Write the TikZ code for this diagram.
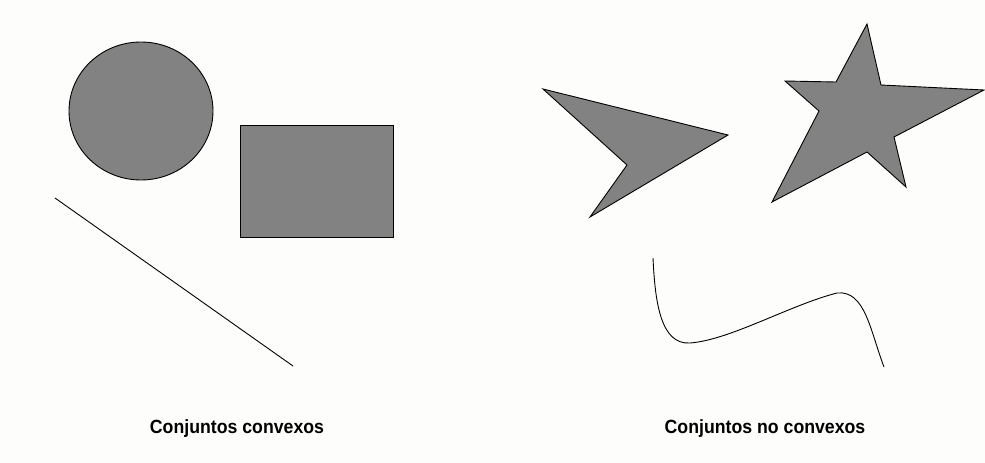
\documentclass[tikz,border=0pt]{standalone}
\usepackage{fontspec}
\setmainfont{Liberation Sans}
\definecolor{bg}{HTML}{FDFDFB}
\definecolor{shapegray}{HTML}{828282}
\begin{document}
\begin{tikzpicture}[x=1pt,y=-1pt,
  graysolid/.style={fill=shapegray,draw=black,line width=0.9pt,line join=miter},
  thinstroke/.style={draw=black,line width=0.9pt},
  caption/.style={font=\bfseries\fontsize{17.7}{20}\selectfont,inner sep=0pt,anchor=base}]
\fill[bg] (0,0) rectangle (985,463);
\useasboundingbox (0,0) rectangle (985,463);
% convex sets
\draw[graysolid] (141,111) ellipse [x radius=72, y radius=69];
\draw[graysolid] (240,125) rectangle (393,237);
\coordinate (l1) at (55,198);
\coordinate (l2) at (293,366);
\draw[thinstroke] (l1) -- (l2);
% non-convex sets
\draw[graysolid] (543,89) -- (728,135) -- (590,217) -- (627,165) -- cycle;
\draw[graysolid] (867,24) -- (881,85) -- (984,90) -- (894,137) -- (906,187) -- (867,152)
  -- (772,202) -- (819,111) -- (785,81) -- (836,82) -- cycle;
\coordinate (c1) at (653,258);
\coordinate (c2) at (884,367);
\draw[thinstroke] (c1) .. controls (655,300) and (660,345) .. (690,343)
  .. controls (730,340) and (790,305) .. (837,293)
  .. controls (865,290) and (870,330) .. (c2);
% captions
\node[caption] (t1) at (237,433) {\scalebox{1}[1.08]{Conjuntos convexos}};
\node[caption] (t2) at (765,433) {\scalebox{1}[1.08]{Conjuntos no convexos}};
\end{tikzpicture}
\end{document}
